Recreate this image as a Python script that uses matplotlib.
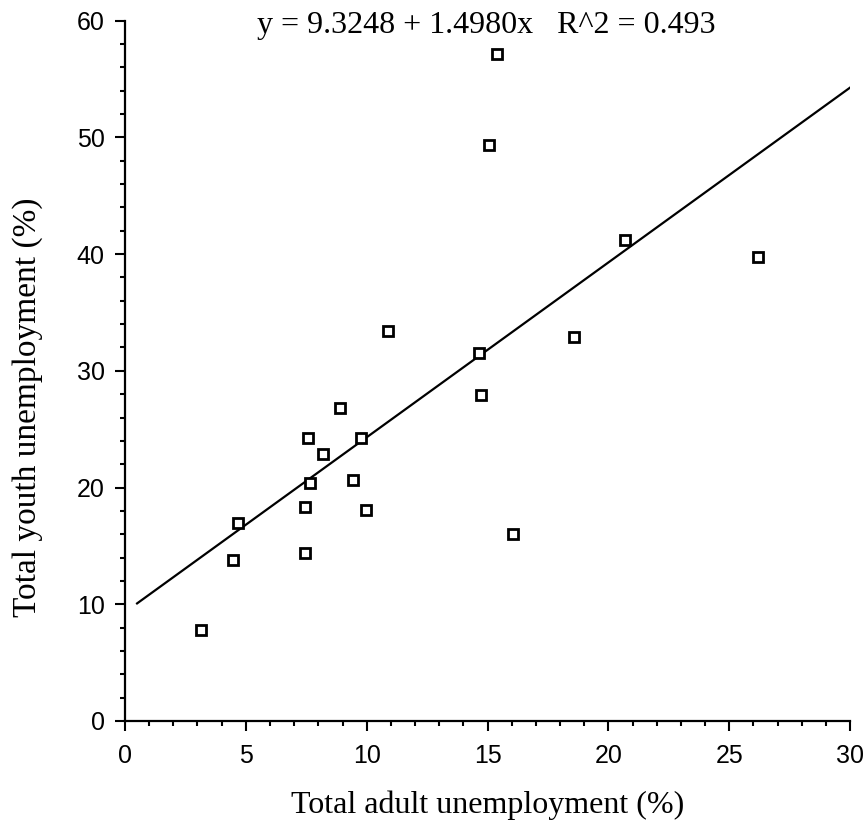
import numpy as np
import matplotlib
matplotlib.use("Agg")
import matplotlib.pyplot as plt
from matplotlib.ticker import MultipleLocator

# data
adult = [3.13, 4.46, 4.69, 7.45, 7.45, 7.65, 7.56, 8.20, 9.76, 9.43, 9.97,
         8.90, 10.87, 14.63, 14.73, 16.04, 18.59, 20.69, 26.20, 15.06, 15.40]
youth = [7.79, 13.76, 16.93, 14.41, 18.30, 20.40, 24.25, 22.88, 24.25, 20.61, 18.09,
         26.80, 33.39, 31.57, 27.91, 16.04, 32.94, 41.18, 39.79, 49.32, 57.17]

# fit reported in the chart
INTERCEPT = 9.3248
SLOPE = 1.4980
R2 = 0.493
LINE_X = [0.5, 30]

SANS = "Liberation Sans"
SERIF = "Liberation Serif"


def main():
    plt.rcParams["font.family"] = SANS
    fig = plt.figure(figsize=(8.65, 8.34), dpi=100)
    ax = fig.add_axes([0.1445, 0.1355, 0.8382, 0.8397])

    line_x = np.array(LINE_X)
    ax.plot(line_x, INTERCEPT + SLOPE * line_x, color="black", lw=1.6)
    ax.plot(adult, youth, linestyle="none", marker="s", ms=7.5, mew=2.0,
            mfc="white", mec="black")

    ax.set_xlim(0, 30)
    ax.set_ylim(0, 60)
    ax.xaxis.set_major_locator(MultipleLocator(5))
    ax.xaxis.set_minor_locator(MultipleLocator(1))
    ax.yaxis.set_major_locator(MultipleLocator(10))
    ax.yaxis.set_minor_locator(MultipleLocator(2))

    for side in ["top", "right"]:
        ax.spines[side].set_visible(False)
    for side in ["left", "bottom"]:
        ax.spines[side].set_linewidth(1.6)

    ax.tick_params(which="major", length=7.5, width=1.5, direction="out", labelsize=18)
    ax.tick_params(which="minor", length=3.5, width=1.5, direction="out")
    ax.tick_params(axis="x", which="major", pad=9)
    ax.tick_params(axis="y", which="major", pad=7)

    fig.text(0.5624, 0.961, "y = %.4f + %.4fx   R^2 = %.3f" % (INTERCEPT, SLOPE, R2),
             ha="center", va="baseline", fontsize=23, family=SERIF)
    fig.text(0.564, 0.025, "Total adult unemployment (%)",
             ha="center", va="baseline", fontsize=23, family=SERIF)
    fig.text(0.032, 0.512, "Total youth unemployment (%)", rotation=90,
             ha="center", va="center", fontsize=24, family=SERIF)

    fig.savefig("out.png", dpi=100)


if __name__ == "__main__":
    main()
